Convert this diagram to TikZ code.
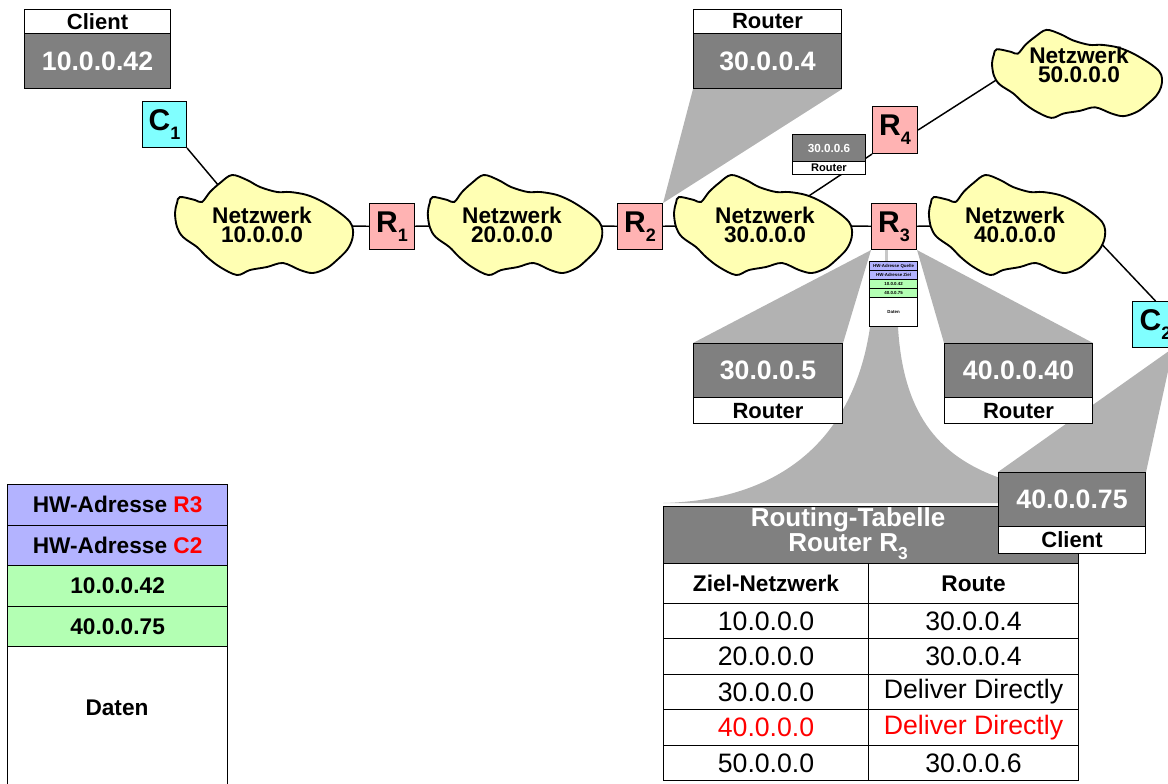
\documentclass[tikz,border=0pt]{standalone}
\usepackage{fontspec}
\setmainfont{Liberation Sans}
\usetikzlibrary{calc}
\definecolor{boxgray}{HTML}{808080}
\definecolor{fungray}{HTML}{B2B2B2}
\definecolor{stripgray}{HTML}{C8C8C8}
\definecolor{rpink}{HTML}{FFB3B3}
\definecolor{ccyan}{HTML}{80FFFF}
\definecolor{cloudy}{HTML}{FFFFB3}
\definecolor{lav}{HTML}{B3B3FF}
\definecolor{lgreen}{HTML}{B3FFB3}
\definecolor{tred}{HTML}{FF0000}
\pgfdeclarelayer{bg}\pgfdeclarelayer{mid}\pgfsetlayers{bg,mid,main}
\newcommand\fs[2]{\fontsize{#1}{#2}\selectfont}
\newcommand\subs[2]{\raisebox{-0.3em}{\fs{#1}{#1}#2}}
\newcommand\cloudpath[4]{\draw[cloudshape,shift={(#1,#2)},xscale=#3,yscale=#4] plot[smooth cycle,tension=0.55] coordinates{(-84,-27) (-69,-24) (-62,-22) (-54,-32) (-44,-41) (-32,-49) (-17,-44) (-4,-37) (13,-32) (26,-32) (43,-29) (59,-22) (76,-11) (86,-2) (89,6) (88,16) (83,26) (73,36) (63,44) (49,49) (36,46) (19,39) (3,43) (-14,46) (-27,51) (-44,43) (-57,33) (-67,23) (-81,13) (-87,3) (-89,-11) (-87,-21)};}
\begin{document}
\begin{tikzpicture}[x=0.75pt,y=-0.75pt,
  sz/.style n args={2}{minimum width=#1*0.75pt, minimum height=#2*0.75pt, inner sep=0pt, anchor=north west},
  ipbox/.style={draw, line width=0.8pt, fill=boxgray, text=white, font=\bfseries\fs{20}{24}},
  labbox/.style={draw, line width=0.8pt, fill=white, font=\bfseries\fs{16.5}{20}},
  rbox/.style={draw, line width=0.8pt, fill=rpink, font=\bfseries\fs{22.5}{26}},
  cbox/.style={draw, line width=0.8pt, fill=ccyan, font=\bfseries\fs{22.5}{26}},
  cloudtxt/.style={align=center, inner sep=1pt, font=\bfseries\fs{17}{14.25}},
  cloudshape/.style={draw, line width=1.4pt, fill=cloudy},
  conn/.style={line width=1.1pt},
  funnel/.style={fill=fungray},
  cell/.style={draw, line width=0.8pt, fill=white, font=\fs{20}{24}},
  hcell/.style={draw, line width=0.8pt, fill=white, font=\bfseries\fs{17}{20}},
  pkt/.style={draw, line width=0.9pt, font=\bfseries\fs{17}{20}},
  tpkt/.style={draw, line width=0.9pt, font=\bfseries\fs{3.3}{4}},
  smallip/.style={draw, line width=0.7pt, fill=boxgray, text=white, font=\bfseries\fs{8.8}{10}},
  smalllab/.style={draw, line width=0.7pt, fill=white, font=\bfseries\fs{8.3}{10}},
]
\clip (0,0) rectangle (1168,783);

% ---- address boxes
\node[sz={146}{24},labbox] (clientlab) at (24,9) {Client};
\node[sz={146}{55},ipbox] (clientip) at (24,33) {10.0.0.42};
\node[sz={148}{24},labbox] (r2lab) at (693,9) {Router};
\node[sz={148}{55},ipbox] (r2ip) at (693,33) {30.0.0.4};
\node[sz={149}{54},ipbox] (ip305) at (693,343) {30.0.0.5};
\node[sz={149}{26},labbox] (lab305) at (693,397) {Router};
\node[sz={148}{54},ipbox] (ip4040) at (944,343) {40.0.0.40};
\node[sz={148}{26},labbox] (lab4040) at (944,397) {Router};
\node[sz={73}{27},smallip] (ip306) at (792,134) {30.0.0.6};
\node[sz={73}{13},smalllab] (lab306) at (792,161) {Router};

% ---- routers and clients
\node[sz={44}{46},cbox] (C1) at (142,101) {C\subs{13.5}{1}};
\node[sz={46}{46},cbox] (C2) at (1132,301) {C\subs{13.5}{2}};
\node[sz={45}{46},rbox] (R1) at (369,203) {R\subs{13.5}{1}};
\node[sz={45}{46},rbox] (R2) at (617,203) {R\subs{13.5}{2}};
\node[sz={45}{46},rbox] (R3) at (871,203) {R\subs{13.5}{3}};
\node[sz={45}{47},rbox] (R4) at (872,106) {R\subs{13.5}{4}};

% ---- cloud labels
\node[cloudtxt] (cl1) at (262,225) {Netzwerk\\10.0.0.0};
\node[cloudtxt] (cl2) at (512,225) {Netzwerk\\20.0.0.0};
\node[cloudtxt] (cl3) at (765,225) {Netzwerk\\30.0.0.0};
\node[cloudtxt] (cl4) at (1015,225) {Netzwerk\\40.0.0.0};
\node[cloudtxt] (cl5) at (1079,65) {Netzwerk\\50.0.0.0};

% ---- small packet at R3
\node[sz={48}{9},tpkt,fill=lav] (tp1) at (869,261) {HW-Adresse Quelle};
\node[sz={48}{9},tpkt,fill=lav] (tp2) at (869,270) {HW-Adresse Ziel};
\node[sz={48}{9},tpkt,fill=lgreen] (tp3) at (869,279) {10.0.0.42};
\node[sz={48}{9},tpkt,fill=lgreen] (tp4) at (869,288) {40.0.0.75};
\node[sz={48}{29},tpkt,fill=white] (tp5) at (869,297) {Daten};

% ---- large packet
\node[sz={220}{40.5},pkt,fill=lav] (p1) at (7,484) {HW-Adresse \textcolor{tred}{R3}};
\node[sz={220}{40.5},pkt,fill=lav] (p2) at (7,524.5) {HW-Adresse \textcolor{tred}{C2}};
\node[sz={220}{40.5},pkt,fill=lgreen] (p3) at (7,565) {10.0.0.42};
\node[sz={220}{40.5},pkt,fill=lgreen] (p4) at (7,605.5) {40.0.0.75};
\node[sz={220}{160},pkt,fill=white] (p5) at (7,646) {};
\node[font=\bfseries\fs{17}{20}] (daten) at (117,708) {Daten};

% ---- routing table
\node[sz={415}{57},draw,line width=0.8pt,fill=boxgray] (thead) at (663,506) {};
\node[align=center,text=white,font=\bfseries\fs{19.5}{18.75}] (ttitle) at (848,534) {Routing-Tabelle\\Router R\subs{13}{3}};
\node[sz={205}{40},hcell] (h1) at (663,563) {Ziel-Netzwerk};
\node[sz={210}{40},hcell] (h2) at (868,563) {Route};
\node[sz={205}{35.4},cell] (a1) at (663,603) {10.0.0.0};
\node[sz={210}{35.4},cell] (b1) at (868,603) {30.0.0.4};
\node[sz={205}{35.4},cell] (a2) at (663,638.4) {20.0.0.0};
\node[sz={210}{35.4},cell] (b2) at (868,638.4) {30.0.0.4};
\node[sz={205}{35.4},cell] (a3) at (663,673.8) {30.0.0.0};
\node[sz={210}{35.4},cell] (b3) at (868,673.8) {Deliver Directly};
\node[sz={205}{35.4},cell,text=tred] (a4) at (663,709.2) {40.0.0.0};
\node[sz={210}{35.4},cell,text=tred] (b4) at (868,709.2) {Deliver Directly};
\node[sz={205}{35.4},cell] (a5) at (663,744.6) {50.0.0.0};
\node[sz={210}{35.4},cell] (b5) at (868,744.6) {30.0.0.6};

% ---- client C2 address box (over the table)
\node[sz={147}{54},ipbox] (ip4075) at (998,472) {40.0.0.75};
\node[sz={147}{27},labbox] (lab4075) at (998,526) {Client};

% ---- free connector ends inside clouds
\coordinate (c1in) at (240,211);
\coordinate (c4in) at (1060,200);
\coordinate (c5in) at (1040,52);

\begin{pgfonlayer}{bg}
  \fill[funnel] (r2ip.south west) -- (r2ip.south east) -- (R2.north east) -- cycle;
  \fill[funnel] (R3.south west) -- (ip305.north west) -- (ip305.north east) -- cycle;
  \fill[funnel] (R3.south east) -- (ip4040.north west) -- (ip4040.north east) -- cycle;
  \fill[funnel] ($(C2.south east)+(-6,0)$) -- (ip4075.north west) -- (ip4075.north east) -- cycle;
  \fill[funnel] ($(tp5.south west)+(1,0)$) .. controls (855,430) and (790,500) .. (663,503)
     -- (1078,503) -- (1000,478) .. controls (935,455) and (903,410) .. ($(tp5.south west)+(29,0)$) -- cycle;
  \fill[stripgray] ($(R3.south)+(-9,0)$) rectangle ($(tp1.north)+(-6,0)$);
  \draw[conn] (C1.south east) -- (c1in);
  \draw[conn] (cl1) -- (R1) -- (cl2) -- (R2) -- (cl3) -- (R3) -- (cl4);
  \draw[conn] (R4.south west) -- (cl3);
  \draw[conn] (R4.east) -- (c5in);
  \draw[conn] (c4in) -- (C2.north);
\end{pgfonlayer}

\begin{pgfonlayer}{mid}
  \cloudpath{264}{224}{1}{1}
  \cloudpath{515}{224}{0.98}{1}
  \cloudpath{763}{224}{1}{1}
  \cloudpath{1017}{224}{0.99}{1}
  \cloudpath{1077}{73}{0.955}{0.88}
\end{pgfonlayer}
\end{tikzpicture}
\end{document}
